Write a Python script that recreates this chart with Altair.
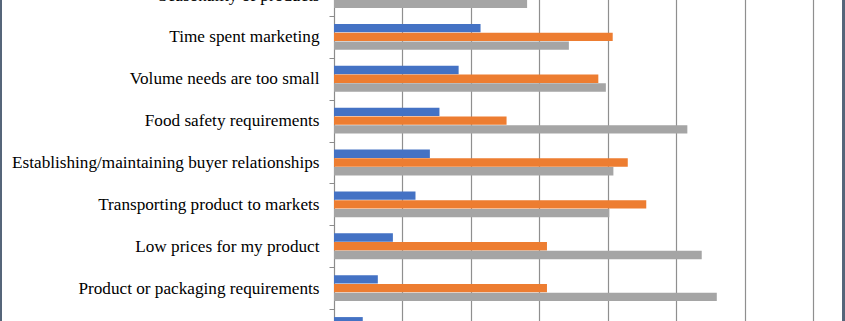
import altair as alt
import pandas as pd

categories = [
    "Seasonality of products",
    "Time spent marketing",
    "Volume needs are too small",
    "Food safety requirements",
    "Establishing/maintaining buyer relationships",
    "Transporting product to markets",
    "Low prices for my product",
    "Product or packaging requirements",
    "Other",
]
series = ["Group 1", "Group 2", "Group 3"]
blue_vals = [25.0, 21.4, 18.2, 15.4, 14.0, 11.9, 8.6, 6.4, 4.2]
orange_vals = [47.2, 40.7, 38.6, 25.2, 42.9, 45.6, 31.1, 31.1, 30.0]
gray_vals = [28.2, 34.3, 39.7, 51.6, 40.8, 40.2, 53.7, 55.9, 60.0]
colors = ["#4472C4", "#ED7D31", "#A5A5A5"]
grid_ticks = [0, 10, 20, 30, 40, 50, 60, 70]

rows = []
for s, vals in zip(series, [blue_vals, orange_vals, gray_vals]):
    for c, v in zip(categories, vals):
        rows.append({"category": c, "series": s, "value": v})
df = pd.DataFrame(rows)

bars = alt.Chart(df).mark_bar().encode(
    y=alt.Y(
        "category:N",
        sort=categories,
        scale=alt.Scale(range=[-25.9, 350.9], paddingInner=0, paddingOuter=0),
        axis=alt.Axis(
            title=None,
            tickBand="extent",
            tickSize=5,
            tickColor="#8c8c8c",
            domainColor="#8c8c8c",
            domainWidth=1,
            labelFont="'Liberation Serif', 'Times New Roman', serif",
            labelFontSize=17.2,
            labelColor="#000000",
            labelPadding=10,
            labelLimit=0,
            grid=False,
        ),
    ),
    yOffset=alt.YOffset(
        "series:N",
        sort=series,
        scale=alt.Scale(paddingInner=0.05, paddingOuter=0.92),
    ),
    x=alt.X(
        "value:Q",
        scale=alt.Scale(domain=[0, 73.6], nice=False, zero=True),
        axis=alt.Axis(
            title=None,
            values=grid_ticks,
            labels=False,
            ticks=False,
            domain=False,
            grid=True,
            gridColor="#8f8f8f",
            gridWidth=1.2,
        ),
    ),
    color=alt.Color(
        "series:N",
        sort=series,
        scale=alt.Scale(domain=series, range=colors),
        legend=None,
    ),
)

left_frame = alt.Chart(df).mark_rule(color="#56667a", strokeWidth=1.6).encode(
    x=alt.value(-333.2), y=alt.value(0), y2=alt.value(321)
)
right_frame = alt.Chart(df).mark_rule(color="#56667a", strokeWidth=1.6).encode(
    x=alt.value(509.5), y=alt.value(0), y2=alt.value(321)
)

chart = (
    alt.layer(bars, left_frame, right_frame)
    .properties(
        width=504,
        height=321,
        autosize=alt.AutoSizeParams(type="none"),
        padding={"left": 334, "right": 7, "top": 0, "bottom": 0},
        background="#ffffff",
    )
    .configure_view(strokeWidth=0)
)

chart.save("out.html", embed_options={"renderer": "svg", "actions": False})
